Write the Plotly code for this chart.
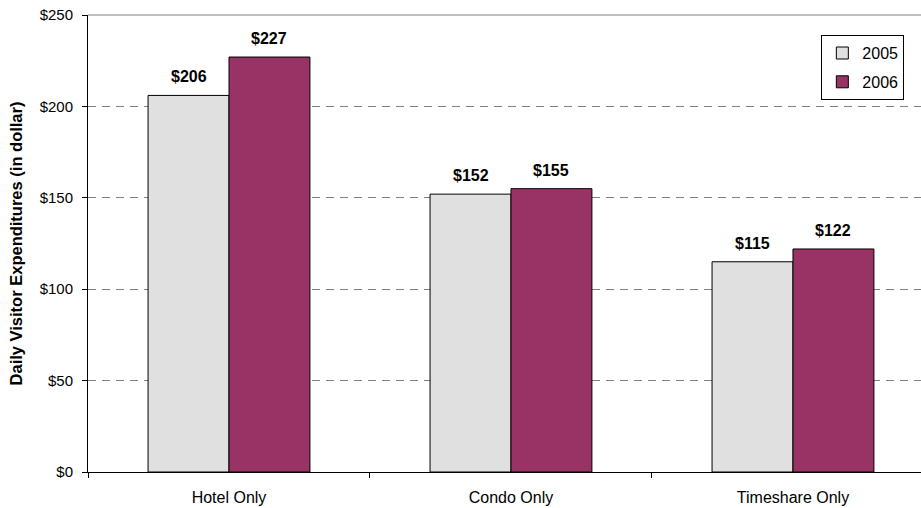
import plotly.graph_objects as go

# Data
categories = ["Hotel Only", "Condo Only", "Timeshare Only"]
years = ["2005", "2006"]
spend_2005 = [206, 152, 115]
spend_2006 = [227, 155, 122]
y_ticks = [0, 50, 100, 150, 200, 250]
y_tick_labels = ["$0", "$50", "$100", "$150", "$200", "$250"]

colors = {"2005": "#E0E0E0", "2006": "#993366"}
font_family = "Arial, Liberation Sans, sans-serif"

W, H = 921, 508
margin = dict(l=88, r=0, t=15, b=36)
x_range = [-0.5, 2.454]
bargap = 0.426

fig = go.Figure()
for yr, vals in zip(years, [spend_2005, spend_2006]):
    fig.add_trace(go.Bar(
        name=yr,
        x=categories,
        y=vals,
        legendgroup=yr,
        marker=dict(color=colors[yr], line=dict(color="#000000", width=1)),
        hoverinfo="x+y",
    ))

# value labels above each bar
plot_w = W - margin["l"] - margin["r"]
cat_px = plot_w / (x_range[1] - x_range[0])
bar_px = cat_px * (1 - bargap) / 2
annotations = []
for i, vals in enumerate([spend_2005, spend_2006]):
    shift = (i - 0.5) * bar_px
    for cat, v in zip(categories, vals):
        annotations.append(dict(
            x=cat, y=v, xref="x", yref="y",
            text=f"<b>${v}</b>", showarrow=False,
            xanchor="center", yanchor="bottom",
            xshift=shift, yshift=8,
            font=dict(family=font_family, size=16, color="#000000"),
        ))

fig.update_layout(
    width=W, height=H,
    margin=margin,
    paper_bgcolor="white",
    plot_bgcolor="white",
    barmode="group",
    bargap=bargap,
    bargroupgap=0,
    font=dict(family=font_family, size=16, color="#000000"),
    annotations=annotations,
    showlegend=True,
    legend=dict(
        x=0.98, y=0.956, xanchor="right", yanchor="top",
        bordercolor="#000000", borderwidth=1, bgcolor="white",
        font=dict(size=16), tracegroupgap=5,
    ),
    shapes=[dict(
        type="line", xref="paper", yref="paper",
        x0=0, x1=1, y0=1, y1=1,
        line=dict(color="#808080", width=1),
    )],
)

fig.update_xaxes(
    type="category",
    range=x_range,
    tickson="boundaries",
    ticks="outside", ticklen=5, tickcolor="#000000",
    showline=True, linecolor="#000000", linewidth=1,
    showgrid=False,
    ticklabelstandoff=11,
    tickfont=dict(size=16),
)

fig.update_yaxes(
    range=[0, 250],
    tickvals=y_ticks, ticktext=y_tick_labels,
    ticks="outside", ticklen=5, tickcolor="#000000",
    showline=True, linecolor="#000000", linewidth=1,
    showgrid=True, gridcolor="#808080", gridwidth=1, griddash="8px,6px",
    zeroline=False,
    ticklabelstandoff=6,
    tickfont=dict(size=15),
    title=dict(text="<b>Daily Visitor Expenditures (in dollar)</b>",
               font=dict(size=16.5), standoff=12),
)

fig.write_html("out.html")
